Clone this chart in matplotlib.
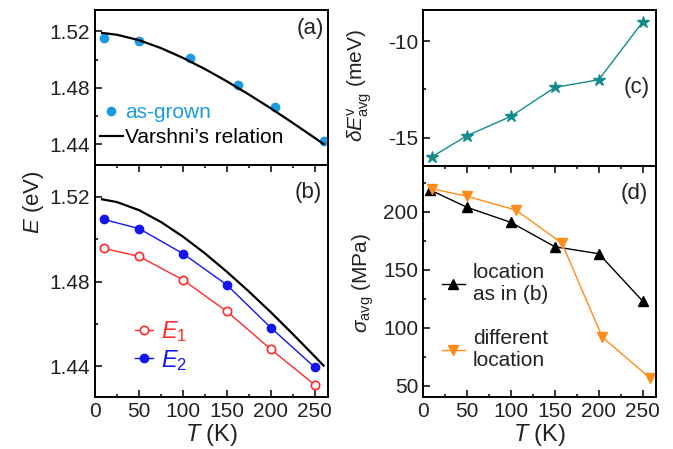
import numpy as np
import matplotlib
matplotlib.use("Agg")
from matplotlib import pyplot as plt
from matplotlib.ticker import MultipleLocator

plt.rcParams['font.family'] = ['Liberation Sans', 'DejaVu Sans']
plt.rcParams['mathtext.fontset'] = 'custom'
plt.rcParams['mathtext.rm'] = 'Liberation Sans'
plt.rcParams['mathtext.it'] = 'Liberation Sans:italic'
plt.rcParams['mathtext.sf'] = 'Liberation Sans'
plt.rcParams['axes.unicode_minus'] = False

# (a) as-grown peak energy and Varshni curve
T_grown = [10, 50, 108, 163, 205, 260]
E_grown = [1.5154, 1.5130, 1.5014, 1.4823, 1.4664, 1.4426]
T_varshni = [8, 25, 50, 75, 100, 125, 150, 175, 200, 225, 250, 260]
E_varshni = [1.5188, 1.5175, 1.5137, 1.5081, 1.5012, 1.4933, 1.4846,
             1.4753, 1.4655, 1.4552, 1.4446, 1.4403]

# (b) E1 / E2
T_b = [10, 50, 100, 150, 200, 250]
E1 = [1.4956, 1.4919, 1.4808, 1.4659, 1.4480, 1.4312]
E2 = [1.5093, 1.5050, 1.4932, 1.4784, 1.4582, 1.4395]

# (c) shift of E^v
T_c = [10, 50, 100, 150, 200, 250]
dEv = [-16.0, -14.9, -13.9, -12.4, -12.0, -9.0]

# (d) stress
T_same = [8, 50, 100, 150, 200, 250]
sig_same = [219, 204, 191, 170, 164, 123]
T_diff = [10, 50, 106, 158, 204, 258]
sig_diff = [220, 213.5, 201.5, 173, 92, 57]

c_grown = '#1b9be0'
c_e1 = '#ff2a2a'
c_e2 = '#1414f0'
c_teal = '#148c8c'
c_orange = '#ff8c1a'
tk = '#222222'

fig = plt.figure(figsize=(6.73, 4.49), dpi=100)
W, H = 673, 449


def box(x0, y0, x1, y1):
    return [x0 / W, 1 - y1 / H, (x1 - x0) / W, (y1 - y0) / H]


ax_a = fig.add_axes(box(95, 10, 328, 165))
ax_b = fig.add_axes(box(95, 165, 328, 397))
ax_c = fig.add_axes(box(423, 10, 656, 166))
ax_d = fig.add_axes(box(423, 166, 656, 397))

for ax in [ax_a, ax_b, ax_c, ax_d]:
    ax.set_xlim(0, 265)
    ax.xaxis.set_major_locator(MultipleLocator(50))
    ax.xaxis.set_minor_locator(MultipleLocator(25))
    for s in ax.spines.values():
        s.set_linewidth(1.4)
    ax.tick_params(which='both', direction='in', labelsize=15, labelcolor=tk,
                   width=1.1, right=False)
    ax.tick_params(which='major', length=5)
    ax.tick_params(which='minor', length=2.5)

for ax in [ax_a, ax_c]:
    ax.tick_params(which='both', bottom=False, labelbottom=False)
for ax in [ax_b, ax_d]:
    ax.tick_params(which='both', top=True)
    ax.set_xlabel(r'$T$ (K)', fontsize=17, color=tk, labelpad=1)

for ax in [ax_a, ax_b]:
    ax.set_ylim(1.4255, 1.535)
    ax.yaxis.set_major_locator(MultipleLocator(0.04))
    ax.yaxis.set_minor_locator(MultipleLocator(0.02))
    ax.yaxis.set_major_formatter(matplotlib.ticker.FormatStrFormatter('%.2f'))

# (a)
ax_a.plot(T_grown, E_grown, 'o', color=c_grown, ms=6, label='as-grown')
ax_a.plot(T_varshni, E_varshni, '-', color='black', lw=1.6,
          label='Varshni\u2019s relation')
ax_a.legend(loc='upper left', bbox_to_anchor=(0.02, 0.40), frameon=False,
            fontsize=15, handlelength=1.1, handletextpad=0.1,
            labelspacing=0.3, borderpad=0, borderaxespad=0,
            labelcolor=[c_grown, 'black'])
ax_a.text(0.925, 0.88, '(a)', transform=ax_a.transAxes, fontsize=16,
          ha='center', va='center', color=tk)

# (b)
ax_b.plot(T_varshni, E_varshni, '-', color='black', lw=1.6)
ax_b.plot(T_b, E1, '-o', color=c_e1, lw=1, ms=6, mfc='white', mec=c_e1,
          mew=1.2, label=r'$E_{\rm 1}$')
ax_b.plot(T_b, E2, '-o', color=c_e2, lw=1, ms=6, label=r'$E_{\rm 2}$')
ax_b.legend(loc='upper left', bbox_to_anchor=(0.17, 0.335), frameon=False,
            fontsize=17, handlelength=0.8, handletextpad=0.3,
            labelspacing=0.15, borderpad=0, borderaxespad=0,
            labelcolor=[c_e1, c_e2])
ax_b.text(0.915, 0.88, '(b)', transform=ax_b.transAxes, fontsize=16,
          ha='center', va='center', color=tk)

fig.text(0.05, 0.55, r'$E$ (eV)', rotation=90, fontsize=16, color=tk,
         ha='center', va='center')

# (c)
ax_c.plot(T_c, dEv, '-*', color=c_teal, lw=1, ms=9)
ax_c.set_ylim(-16.47, -8.39)
ax_c.yaxis.set_major_locator(MultipleLocator(5))
ax_c.yaxis.set_minor_locator(MultipleLocator(2.5))
ax_c.text(0.918, 0.50, '(c)', transform=ax_c.transAxes, fontsize=16,
          ha='center', va='center', color=tk)
fig.text(0.535, 0.81, r'$\delta E^{\rm v}_{\rm avg}$ (meV)', rotation=90,
         fontsize=15, color=tk, ha='center', va='center')

# (d)
ax_d.plot(T_same, sig_same, '-^', color='black', lw=1, ms=7,
          label='location\nas in (b)')
ax_d.plot(T_diff, sig_diff, '-v', color=c_orange, lw=1, ms=7,
          label='different\nlocation')
ax_d.set_ylim(40.5, 239.6)
ax_d.yaxis.set_major_locator(MultipleLocator(50))
ax_d.yaxis.set_minor_locator(MultipleLocator(25))
ax_d.legend(loc='upper left', bbox_to_anchor=(0.08, 0.58), frameon=False,
            fontsize=15, handlelength=1.1, handletextpad=0.4,
            labelspacing=1.2, borderpad=0, borderaxespad=0,
            labelcolor=tk)
ax_d.text(0.906, 0.88, '(d)', transform=ax_d.transAxes, fontsize=16,
          ha='center', va='center', color=tk)
fig.text(0.54, 0.37, r'$\sigma_{\rm avg}$ (MPa)', rotation=90,
         fontsize=15, color=tk, ha='center', va='center')

fig.savefig('out.png', dpi=100)
